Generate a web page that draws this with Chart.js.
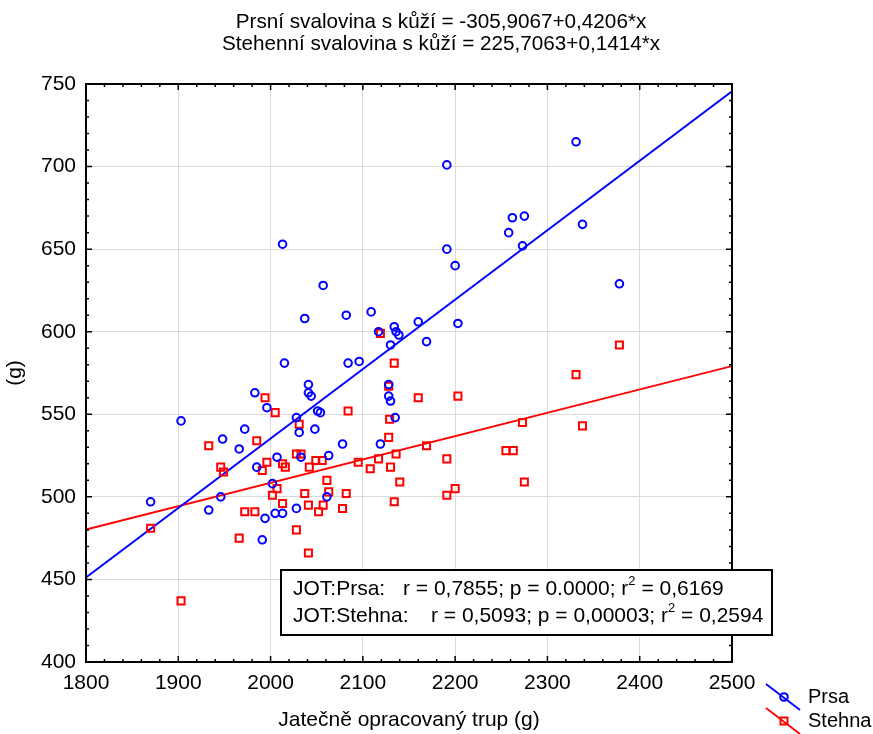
<!DOCTYPE html>
<html>
<head>
<meta charset="utf-8">
<script src="https://cdn.jsdelivr.net/npm/chart.js@4.4.1/dist/chart.umd.min.js"></script>
<style>
  html, body { margin: 0; padding: 0; background: #fff; }
</style>
</head>
<body>
<canvas id="graf" width="873" height="734"></canvas>
<script>
// jatečně opracovaný trup (g) a hmotnost prsní / stehenní svaloviny s kůží (g)
const prsaX = [2013, 2057, 2037, 2082, 2109, 2117, 2134, 2136, 2139, 2130, 2015, 2084, 2096, 2331, 2191,
  2262, 2275, 2258, 2338, 2273, 2191, 2200, 2378, 2160, 2203, 2169, 1983, 2041, 2041, 2044,
  1996, 2051, 2054, 2128, 2128, 2130, 2135, 1903, 2028, 2031, 1972, 2048, 1948, 2119, 2078,
  1966, 2007, 2033, 2063, 1985, 2002, 1946, 1870, 1933, 2061, 2028, 1994, 2005, 2013, 1991];
const prsaY = [653, 628, 608, 610, 612, 600, 603, 600, 598, 592, 581, 581, 582, 715, 701,
  669, 670, 660, 665, 652, 650, 640, 629, 606, 605, 594, 563, 568, 563, 561,
  554, 552, 551, 568, 561, 558, 548, 546, 548, 539, 541, 541, 535, 532, 532,
  529, 524, 524, 525, 518, 508, 500, 497, 492, 500, 493, 487, 490, 490, 474];

const stehnaX = [2119, 2134, 2378, 2331, 2160, 2203, 2273, 2338, 2169, 2255, 2263, 2191, 2140, 2275, 2200,
  2191, 2128, 1994, 2005, 2084, 2129, 2031, 1985, 2128, 1933, 2028, 2033, 2136, 2117, 2095,
  2108, 2130, 2049, 2056, 2042, 1996, 2013, 2016, 1991, 1946, 1949, 2061, 2063, 2007, 2002,
  2037, 2082, 2013, 2057, 2041, 2052, 2078, 1972, 1983, 2134, 1870, 2028, 1966, 2041, 1903];
const stehnaY = [599, 581, 592, 574, 560, 561, 545, 543, 531, 528, 528, 523, 509, 509, 505,
  501, 567, 560, 551, 552, 547, 544, 534, 536, 531, 526, 526, 526, 523, 521,
  517, 518, 522, 522, 518, 521, 520, 518, 516, 518, 515, 510, 503, 505, 501,
  502, 502, 496, 495, 495, 491, 493, 491, 491, 497, 481, 480, 475, 466, 437];

// regresní přímky: y = a + b*x
const prsaFit = { a: -305.9067, b: 0.4206 };
const stehnaFit = { a: 225.7063, b: 0.1414 };

const xTicks = [1800, 1900, 2000, 2100, 2200, 2300, 2400, 2500];
const yTicks = [400, 450, 500, 550, 600, 650, 700, 750];

const titulky = [
  'Prsní svalovina s kůží = -305,9067+0,4206*x',
  'Stehenní svalovina s kůží = 225,7063+0,1414*x'
];
const statistiky = [
  { jmeno: 'JOT:Prsa:', text: 'r = 0,7855; p = 0.0000; r', r2: ' = 0,6169' },
  { jmeno: 'JOT:Stehna:', text: 'r = 0,5093; p = 0,00003; r', r2: ' = 0,2594' }
];

const MODRA = '#0000ff';
const CERVENA = '#ff0000';
const FONT = '"Liberation Sans", Arial, sans-serif';

function body(xs, ys) {
  return xs.map((x, i) => ({ x: x, y: ys[i] }));
}
function primka(fit) {
  const x0 = xTicks[0], x1 = xTicks[xTicks.length - 1];
  return [{ x: x0, y: fit.a + fit.b * x0 }, { x: x1, y: fit.a + fit.b * x1 }];
}

// rámeček, vnitřní značky os, popisky, tabulka r a legenda
const dekorace = {
  id: 'dekorace',
  afterDraw(chart) {
    const ctx = chart.ctx;
    const a = chart.chartArea;
    const sx = chart.scales.x, sy = chart.scales.y;
    ctx.save();

    // značky na všech čtyřech stranách
    ctx.strokeStyle = '#000';
    ctx.lineWidth = 1.5;
    ctx.beginPath();
    for (let v = 1800; v <= 2500; v += 20) {
      const px = sx.getPixelForValue(v);
      const len = v % 100 === 0 ? 6 : 3;
      ctx.moveTo(px, a.bottom); ctx.lineTo(px, a.bottom - len);
      ctx.moveTo(px, a.top); ctx.lineTo(px, a.top + len);
    }
    for (let v = 400; v <= 750; v += 10) {
      const py = sy.getPixelForValue(v);
      const len = v % 50 === 0 ? 6 : 3;
      ctx.moveTo(a.left, py); ctx.lineTo(a.left + len, py);
      ctx.moveTo(a.right, py); ctx.lineTo(a.right - len, py);
    }
    ctx.stroke();

    ctx.lineWidth = 2;
    ctx.strokeRect(a.left, a.top, a.right - a.left, a.bottom - a.top);

    // nadpis
    ctx.fillStyle = '#000';
    ctx.textAlign = 'center';
    ctx.textBaseline = 'middle';
    ctx.font = '20.7px ' + FONT;
    ctx.fillText(titulky[0], 441, 22);
    ctx.fillText(titulky[1], 441, 44);

    // názvy os
    ctx.font = '21px ' + FONT;
    ctx.fillText('Jatečně opracovaný trup (g)', (a.left + a.right) / 2, 720);
    ctx.save();
    ctx.translate(15, (a.top + a.bottom) / 2);
    ctx.rotate(-Math.PI / 2);
    ctx.fillText('(g)', 0, 0);
    ctx.restore();

    // tabulka korelací
    const bx = 281, by = 570, bw = 491, bh = 65;
    ctx.fillStyle = '#fff';
    ctx.fillRect(bx, by, bw, bh);
    ctx.strokeStyle = '#000';
    ctx.lineWidth = 2;
    ctx.strokeRect(bx, by, bw, bh);
    ctx.fillStyle = '#000';
    ctx.textAlign = 'left';
    const radky = [{ y: 589, tx: 403 }, { y: 616, tx: 431 }];
    statistiky.forEach((s, i) => {
      const r = radky[i];
      ctx.font = '21px ' + FONT;
      ctx.fillText(s.jmeno, 293, r.y);
      ctx.fillText(s.text, r.tx, r.y);
      let x = r.tx + ctx.measureText(s.text).width;
      ctx.font = '13px ' + FONT;
      ctx.fillText('2', x, r.y - 8);
      x += ctx.measureText('2').width;
      ctx.font = '21px ' + FONT;
      ctx.fillText(s.r2, x, r.y);
    });

    // legenda
    const polozky = [
      { nazev: 'Prsa', barva: MODRA, y: 697, tvar: 'circle' },
      { nazev: 'Stehna', barva: CERVENA, y: 721, tvar: 'rect' }
    ];
    polozky.forEach(p => {
      ctx.strokeStyle = p.barva;
      ctx.lineWidth = 1.8;
      ctx.beginPath();
      ctx.moveTo(766, p.y - 13);
      ctx.lineTo(800, p.y + 13);
      ctx.stroke();
      ctx.lineWidth = 2;
      ctx.beginPath();
      if (p.tvar === 'circle') {
        ctx.arc(784, p.y, 3.8, 0, Math.PI * 2);
      } else {
        ctx.rect(780.5, p.y - 3.5, 7, 7);
      }
      ctx.stroke();
      ctx.fillStyle = '#000';
      ctx.font = '20px ' + FONT;
      ctx.fillText(p.nazev, 808, p.y);
    });

    ctx.restore();
  }
};

new Chart(document.getElementById('graf'), {
  type: 'scatter',
  data: {
    datasets: [
      {
        label: 'Prsa',
        data: body(prsaX, prsaY),
        pointStyle: 'circle',
        pointRadius: 3.8,
        borderColor: MODRA,
        backgroundColor: 'transparent',
        borderWidth: 2
      },
      {
        label: 'Stehna',
        data: body(stehnaX, stehnaY),
        pointStyle: 'rect',
        pointRadius: 5,
        borderColor: CERVENA,
        backgroundColor: 'transparent',
        borderWidth: 2
      },
      {
        type: 'line',
        label: 'Prsa fit',
        data: primka(prsaFit),
        borderColor: MODRA,
        borderWidth: 1.8,
        pointRadius: 0,
        fill: false
      },
      {
        type: 'line',
        label: 'Stehna fit',
        data: primka(stehnaFit),
        borderColor: CERVENA,
        borderWidth: 1.8,
        pointRadius: 0,
        fill: false
      }
    ]
  },
  options: {
    responsive: false,
    animation: false,
    devicePixelRatio: 1,
    layout: { padding: { left: 0, right: 141, top: 84, bottom: 0 } },
    plugins: {
      legend: { display: false },
      title: { display: false },
      tooltip: { enabled: false }
    },
    scales: {
      x: {
        type: 'linear',
        min: 1800,
        max: 2500,
        afterBuildTicks: s => { s.ticks = xTicks.map(v => ({ value: v })); },
        afterFit: s => { s.height = 72; },
        grid: { color: '#dadada', lineWidth: 1, drawTicks: false },
        border: { display: false },
        ticks: {
          color: '#000', font: { family: FONT, size: 21 }, padding: 9, maxRotation: 0,
          callback: v => String(v)
        }
      },
      y: {
        type: 'linear',
        min: 400,
        max: 750,
        afterBuildTicks: s => { s.ticks = yTicks.map(v => ({ value: v })); },
        afterFit: s => { s.width = 86; },
        grid: { color: '#dadada', lineWidth: 1, drawTicks: false },
        border: { display: false },
        ticks: {
          color: '#000', font: { family: FONT, size: 21 }, padding: 10,
          callback: v => String(v)
        }
      }
    }
  },
  plugins: [dekorace]
});
</script>
</body>
</html>
